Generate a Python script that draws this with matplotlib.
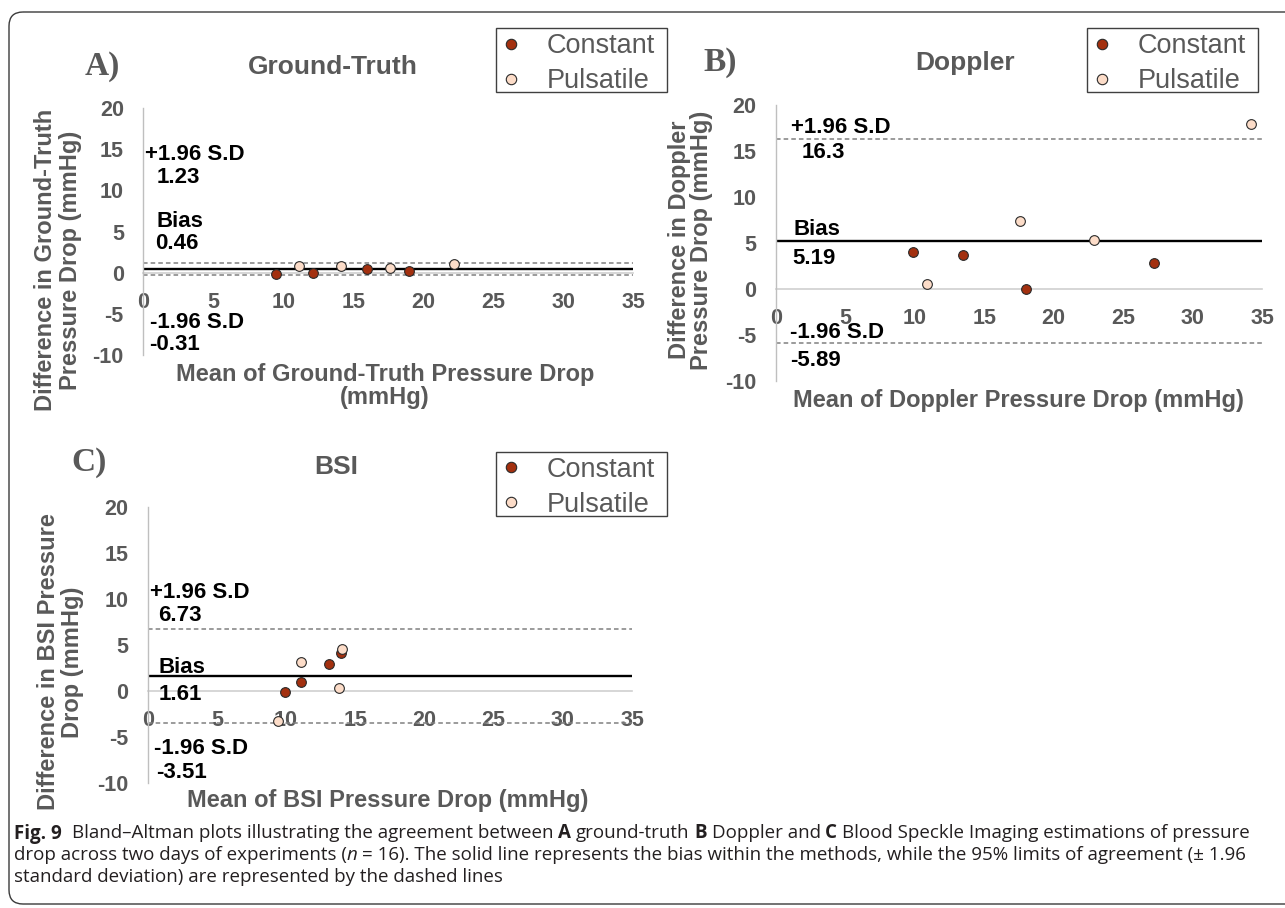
import matplotlib
matplotlib.use("Agg")
import matplotlib.pyplot as plt
from matplotlib.patches import FancyBboxPatch, Rectangle

W, H = 1285, 908

# --- data ---
x_ticks = [0, 5, 10, 15, 20, 25, 30, 35]
y_ticks = [-10, -5, 0, 5, 10, 15, 20]
series_names = ["Constant", "Pulsatile"]

# A) ground-truth
gt_const_x = [9.5, 12.1, 16.0, 19.0]
gt_const_y = [-0.16, 0.0, 0.41, 0.24]
gt_puls_x = [11.1, 14.1, 17.6, 22.2]
gt_puls_y = [0.85, 0.85, 0.53, 1.02]
gt_bias, gt_upper, gt_lower = 0.46, 1.23, -0.31

# B) doppler
dop_const_x = [9.9, 13.5, 18.0, 27.2]
dop_const_y = [4.03, 3.67, -0.05, 2.83]
dop_puls_x = [10.9, 17.6, 22.9, 34.2]
dop_puls_y = [0.51, 7.37, 5.30, 17.9]
dop_bias, dop_upper, dop_lower = 5.19, 16.3, -5.89

# C) BSI
bsi_const_x = [9.9, 11.1, 13.1, 14.0]
bsi_const_y = [-0.18, 0.90, 2.90, 4.10]
bsi_puls_x = [9.4, 11.1, 13.8, 14.05]
bsi_puls_y = [-3.26, 3.08, 0.29, 4.49]
bsi_bias, bsi_upper, bsi_lower = 1.61, 6.73, -3.51

plt.rcParams['font.family'] = ['Liberation Sans', 'DejaVu Sans']
plt.rcParams['axes.unicode_minus'] = False
GRAY = '#595959'
C_CONST = '#A3300F'
C_PULS = '#FCDCC8'
series_colors = [C_CONST, C_PULS]

fig = plt.figure(figsize=(W / 100, H / 100), dpi=100)

# background axes in pixel units for frame and free texts
bg = fig.add_axes([0, 0, 1, 1], zorder=0)
bg.set_xlim(0, W)
bg.set_ylim(H, 0)
bg.axis('off')
bg.add_patch(FancyBboxPatch((9, 12), W + 40, 892,
                            boxstyle='round,pad=0,rounding_size=14',
                            fill=False, ec='#3a3a3a', lw=1.0))


def panel_axes(l, r, t, b):
    ax = fig.add_axes([l / W, 1 - b / H, (r - l) / W, (b - t) / H], zorder=1)
    ax.set_facecolor('none')
    return ax


def draw_panel(ax, cx, cy, px, py, bias, upper, lower, notes):
    ax.set_xlim(0, 35)
    ax.set_ylim(-10, 20)
    ax.axhline(upper, color='#808080', lw=1.1, ls=(0, (3, 2)), zorder=2)
    ax.axhline(lower, color='#808080', lw=1.1, ls=(0, (3, 2)), zorder=2)
    ax.axhline(bias, color='black', lw=1.7, zorder=2)
    ax.plot(cx, cy, 'o', ls='none', ms=7, mfc=C_CONST, mec='#2a2a2a', mew=0.8,
            label=series_names[0], zorder=4)
    ax.plot(px, py, 'o', ls='none', ms=7, mfc=C_PULS, mec='#2a2a2a', mew=0.8,
            label=series_names[1], zorder=4)
    for s in ['top', 'right']:
        ax.spines[s].set_visible(False)
    ax.spines['left'].set_color('#bfbfbf')
    ax.spines['left'].set_linewidth(1.0)
    ax.spines['bottom'].set_position(('data', 0))
    ax.spines['bottom'].set_color('#d0d0d0')
    ax.spines['bottom'].set_linewidth(1.2)
    ax.spines['bottom'].set_zorder(1)
    ax.set_xticks(x_ticks)
    ax.set_yticks(y_ticks)
    ax.tick_params(axis='x', length=0, labelsize=15.5, labelcolor=GRAY, pad=14)
    ax.tick_params(axis='y', length=0, labelsize=15.5, labelcolor=GRAY, pad=14)
    for lab in ax.get_xticklabels() + ax.get_yticklabels():
        lab.set_fontweight('bold')
    for (tx, ty, s) in notes:
        ax.text(tx, ty, s, ha='left', va='center', fontsize=16,
                fontweight='bold', color='black', zorder=5)


def add_legend(x, y):
    # boxed legend, laid out in pixels like the original
    bg.add_patch(Rectangle((x, y), 171, 64, fill=False, ec='#404040', lw=1.0))
    for i, (name, col) in enumerate(zip(series_names, series_colors)):
        cy = y + 15.5 + 35 * i
        bg.plot([x + 15], [cy], 'o', ms=7.5, mfc=col, mec='#2a2a2a', mew=0.8)
        bg.text(x + 51, cy + 9.5, name, ha='left', va='baseline',
                fontsize=19.5, color=GRAY)


# ---- panel A ----
axA = panel_axes(143.3, 633, 108, 355)
draw_panel(axA, gt_const_x, gt_const_y, gt_puls_x, gt_puls_y,
           gt_bias, gt_upper, gt_lower,
           [(0.1, 14.3, '+1.96 S.D'), (0.95, 11.6, '1.23'),
            (0.95, 6.2, 'Bias'), (0.85, 3.6, '0.46'),
            (0.45, -6.1, '-1.96 S.D'), (0.45, -8.75, '-0.31')])
add_legend(496, 28)

# ---- panel B ----
axB = panel_axes(776, 1262, 105, 380.6)
draw_panel(axB, dop_const_x, dop_const_y, dop_puls_x, dop_puls_y,
           dop_bias, dop_upper, dop_lower,
           [(1.05, 17.6, '+1.96 S.D'), (1.85, 14.8, '16.3'),
            (1.25, 6.4, 'Bias'), (1.2, 3.3, '5.19'),
            (1.0, -4.8, '-1.96 S.D'), (1.0, -7.8, '-5.89')])
add_legend(1087, 28)

# ---- panel C ----
axC = panel_axes(147.7, 632, 506.7, 782.7)
draw_panel(axC, bsi_const_x, bsi_const_y, bsi_puls_x, bsi_puls_y,
           bsi_bias, bsi_upper, bsi_lower,
           [(0.14, 10.7, '+1.96 S.D'), (0.78, 8.2, '6.73'),
            (0.78, 2.5, 'Bias'), (0.78, -0.45, '1.61'),
            (0.45, -6.3, '-1.96 S.D'), (0.6, -8.9, '-3.51')])
add_legend(495.5, 451.7)

# panel letters and titles
for (x, y, s) in [(102, 67, 'A)'), (720, 62, 'B)'), (89, 462, 'C)')]:
    bg.text(x, y, s, ha='center', va='center', fontsize=24, fontweight='bold',
            family='Liberation Serif', color=GRAY)
for (x, y, s) in [(333, 67, 'Ground-Truth'), (965, 63, 'Doppler'), (336, 467, 'BSI')]:
    bg.text(x, y, s, ha='center', va='center', fontsize=19, fontweight='bold', color=GRAY)

# axis titles
lab_kw = dict(fontsize=17, fontweight='bold', color=GRAY, ha='center', va='center',
              multialignment='center')
bg.text(58, 260, 'Difference in Ground-Truth\nPressure Drop (mmHg)', rotation=90,
        linespacing=1.1, **lab_kw)
bg.text(690.5, 240, 'Difference in Doppler\nPressure Drop (mmHg)', rotation=90,
        linespacing=0.9, **lab_kw)
bg.text(60.5, 662, 'Difference in BSI Pressure\nDrop (mmHg)', rotation=90,
        linespacing=1.0, **lab_kw)
bg.text(385, 386, 'Mean of Ground-Truth Pressure Drop\n(mmHg)', linespacing=0.95, **lab_kw)
bg.text(1018.6, 400, 'Mean of Doppler Pressure Drop (mmHg)', **lab_kw)
bg.text(388, 800, 'Mean of BSI Pressure Drop (mmHg)', **lab_kw)

# caption, drawn run by run
renderer = fig.canvas.get_renderer()
cap_font = 'Open Sans'
cap_size = 13.5


def text_width(s, **kw):
    t = bg.text(0, 0, s, fontsize=cap_size, family=cap_font, **kw)
    w = t.get_window_extent(renderer).width
    t.remove()
    return w


space_w = text_width('a a') - text_width('aa')


def caption_line(x, y, runs):
    for s, style in runs:
        kw = {}
        if style == 'b':
            kw['fontweight'] = 'bold'
        elif style == 'i':
            kw['fontstyle'] = 'italic'
        core = s.strip(' ')
        x += space_w * (len(s) - len(s.lstrip(' ')))
        if core:
            t = bg.text(x, y, core, ha='left', va='baseline', fontsize=cap_size,
                        family=cap_font, color='#231f20', **kw)
            x += t.get_window_extent(renderer).width
        x += space_w * (len(s) - len(s.rstrip(' ')))


caption_line(14, 838.5, [('Fig. 9', 'b'),
                         ('  Bland–Altman plots illustrating the agreement between ', 'n'),
                         ('A', 'b'), (' ground-truth ', 'n'), ('B', 'b'),
                         (' Doppler and ', 'n'), ('C', 'b'),
                         (' Blood Speckle Imaging estimations of pressure', 'n')])
caption_line(14, 860.5, [('drop across two days of experiments (', 'n'), ('n', 'i'),
                         (' = 16). The solid line represents the bias within the methods, '
                          'while the 95% limits of agreement (± 1.96', 'n')])
caption_line(14, 882.5, [('standard deviation) are represented by the dashed lines', 'n')])

fig.savefig('out.png', dpi=100)
